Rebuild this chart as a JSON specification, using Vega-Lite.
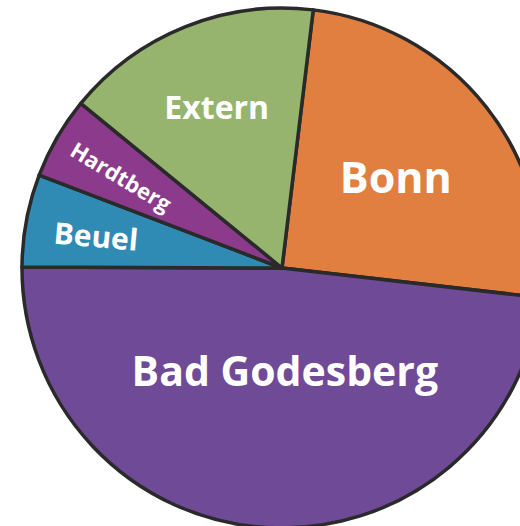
{
  "$schema": "https://vega.github.io/schema/vega-lite/v6.json",
  "width": 564,
  "height": 536,
  "padding": 0,
  "autosize": {"type": "none"},
  "background": "white",
  "view": {"stroke": null},
  "data": {"values": [
    {"region": "Bonn", "share": 24.9, "rank": 1},
    {"region": "Bad Godesberg", "share": 48.25, "rank": 2},
    {"region": "Beuel", "share": 5.75, "rank": 3},
    {"region": "Hardtberg", "share": 5.1, "rank": 4},
    {"region": "Extern", "share": 16.0, "rank": 5}
  ]},
  "encoding": {
    "theta": {"field": "share", "type": "quantitative", "stack": true, "scale": {"range": [0.1204, 6.4036]}},
    "order": {"field": "rank", "type": "quantitative"}
  },
  "layer": [
    {
      "mark": {"type": "arc", "outerRadius": 260, "stroke": "#2a2a2a", "strokeWidth": 3.5, "strokeJoin": "round"},
      "encoding": {
        "color": {"field": "region", "type": "nominal", "legend": null,
          "scale": {"domain": ["Bonn", "Bad Godesberg", "Beuel", "Hardtberg", "Extern"],
                    "range": ["#E07F3F", "#6F4A97", "#2F8BB3", "#8B3A8C", "#96B46D"]}}
      }
    },
    {
      "mark": {"type": "text", "font": "Open Sans", "fontWeight": "bold", "fontSize": 43, "fill": "white", "align": "center", "baseline": "middle", "dy": 2},
      "encoding": {"radius": {"value": 145}, "text": {"condition": {"test": "datum.region === 'Bonn'", "field": "region"}, "value": ""}}
    },
    {
      "mark": {"type": "text", "font": "Open Sans", "fontWeight": "bold", "fontSize": 41, "fill": "white", "align": "center", "baseline": "middle", "dx": 9, "dy": 2},
      "encoding": {"radius": {"value": 104}, "text": {"condition": {"test": "datum.region === 'Bad Godesberg'", "field": "region"}, "value": ""}}
    },
    {
      "mark": {"type": "text", "font": "Open Sans", "fontWeight": "bold", "fontSize": 32, "fill": "white", "align": "center", "baseline": "middle", "dy": 3},
      "encoding": {"radius": {"value": 175}, "text": {"condition": {"test": "datum.region === 'Extern'", "field": "region"}, "value": ""}}
    },
    {
      "mark": {"type": "text", "font": "Open Sans", "fontWeight": "bold", "fontSize": 30, "fill": "white", "align": "center", "baseline": "middle", "angle": 5, "dy": 5},
      "encoding": {"radius": {"value": 189}, "text": {"condition": {"test": "datum.region === 'Beuel'", "field": "region"}, "value": ""}}
    },
    {
      "mark": {"type": "text", "font": "Open Sans", "fontWeight": "bold", "fontSize": 22, "fill": "white", "align": "center", "baseline": "middle", "angle": 31, "dx": 4, "dy": 3},
      "encoding": {"radius": {"value": 189}, "text": {"condition": {"test": "datum.region === 'Hardtberg'", "field": "region"}, "value": ""}}
    }
  ]
}
